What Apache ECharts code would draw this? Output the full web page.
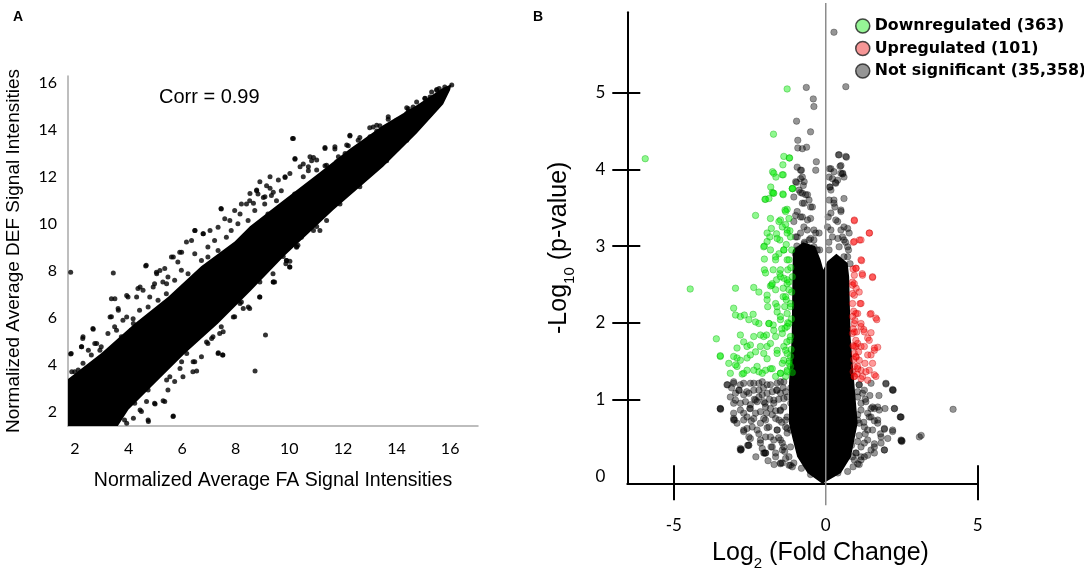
<!DOCTYPE html>
<html lang="en">

<head>
    <meta charset="UTF-8">
    <title>FA vs DEF signal intensities</title>
    <script src="https://cdn.jsdelivr.net/npm/echarts@6/dist/echarts.min.js"></script>
    <style>
        html, body {
            margin: 0;
            padding: 0;
            background: #fff;
        }
        #box {
            width: 1084px;
            height: 571px;
        }
    </style>
</head>

<body>
    <div id="box"></div>
    <script>
        // ---- panel A : correlation scatter ----
        const ticksA = [2, 4, 6, 8, 10, 12, 14, 16]
        // outline of the solid, saturated part of the cloud
        const bandA = [
            [1.74, 1.4], [1.74, 3.4], [2.98, 4.5], [4.23, 5.76], [5.47, 6.89], [6.71, 8.2], [7.96, 9.25], [8.53, 9.9],
            [9.77, 11.0], [11.02, 12.1], [12.26, 13.2], [13.5, 14.2], [14.75, 15.05], [15.74, 15.8], [16.05, 15.95],
            [16.0, 15.7], [15.74, 15.1], [14.75, 13.85], [13.5, 12.44], [11.64, 10.6], [10.7, 9.58], [9.82, 8.65],
            [8.58, 7.18], [7.34, 5.76], [6.1, 4.49], [4.85, 3.07], [4.0, 2.1], [3.6, 1.4]
        ]
        // single genes in the dotted fringe and outside the solid cloud
        const pointsA = [
            [1.84, 7.95], [3.43, 7.91], [4.64, 8.21], [10.12, 13.64], [10.21, 12.76], [9.87, 8.31], [10.02, 8.17], [9.4, 7.53],
            [7.45, 10.66], [8.78, 11.42], [9.84, 11.98], [10.52, 12.55], [10.9, 12.83], [11.33, 13.26], [12.26, 13.75],
            [12.63, 13.68], [13.0, 14.1], [13.69, 14.46], [14.38, 14.95], [15.06, 15.35], [15.5, 15.73], [16.06, 15.92],
            [14.0, 13.19], [15.18, 14.6], [13.63, 12.69], [11.89, 10.85], [11.39, 10.15], [10.9, 9.72], [10.27, 9.01],
            [6.35, 9.3], [6.79, 9.58], [5.67, 8.59], [5.17, 8.02], [5.05, 7.88], [5.98, 8.8], [6.48, 9.72], [7.04, 9.72],
            [7.78, 10.15], [8.16, 10.43], [8.4, 10.85], [9.03, 11.13], [9.4, 11.35], [9.15, 11.63], [9.52, 10.99],
            [10.71, 12.27], [10.83, 12.69], [11.33, 12.48], [11.7, 13.19], [12.2, 13.33], [12.57, 13.26], [13.26, 13.96],
            [13.38, 14.18], [14.44, 14.81], [14.62, 14.98], [15.59, 15.77], [15.8, 15.83], [15.25, 14.67], [11.14, 9.72],
            [9.9, 8.45], [1.84, 4.46], [2.29, 5.13], [2.68, 5.52], [2.25, 4.77], [1.88, 3.71], [2.12, 3.78], [2.5, 4.63],
            [2.81, 4.91], [2.93, 4.63], [3.31, 6.04], [3.49, 6.82], [3.93, 6.96], [3.62, 6.33], [3.93, 6.04], [4.3, 6.89],
            [4.43, 7.32], [4.92, 7.32], [5.42, 7.46], [3.55, 5.48], [4.18, 5.76], [5.67, 1.83], [4.74, 1.59], [5.29, 2.48],
            [4.99, 2.34], [4.43, 2.08], [4.67, 2.44], [4.18, 1.73], [3.93, 1.52], [6.54, 3.74], [6.41, 4.13], [5.92, 3.85],
            [5.98, 4.13], [5.54, 3.5], [5.42, 3.36], [7.35, 4.52], [7.51, 4.42], [8.72, 3.74], [9.11, 5.27], [7.1, 5.13],
            [7.53, 5.41], [8.28, 6.4], [8.47, 6.47], [8.9, 6.89], [7.91, 6.04], [8.16, 6.61], [6.91, 4.98], [6.17, 4.49],
            [8.9, 7.53], [9.4, 7.53],
            [4.66, 8.24], [5.04, 7.95], [5.35, 8.1], [5.6, 8.59], [5.91, 8.8], [5.84, 8.38], [6.16, 9.23], [6.47, 9.72],
            [6.78, 9.58], [6.96, 9.02], [7.21, 9.3], [7.34, 9.86], [7.59, 10.22], [7.46, 10.64], [7.96, 10.57], [8.21, 10.85],
            [8.52, 10.99], [8.83, 11.28], [9.08, 10.85], [9.33, 11.21], [9.7, 11.42], [10.2, 11.28], [10.45, 11.42],
            [3.36, 6.82], [3.61, 6.4], [3.98, 6.89], [4.35, 7.25], [4.54, 7.18], [4.79, 6.89], [4.97, 7.46], [5.28, 7.53],
            [5.47, 7.74], [5.72, 7.6], [5.97, 8.03], [6.22, 7.88], [6.47, 8.73], [6.72, 8.45], [6.96, 8.59], [7.34, 8.87],
            [7.65, 9.44], [7.83, 9.72], [8.08, 10.01], [8.46, 10.15], [8.71, 10.57], [9.2, 10.43], [9.45, 10.15],
            [9.82, 10.71], [10.32, 10.99], [2.67, 5.55], [2.3, 5.2], [2.24, 4.77], [2.74, 4.91], [2.98, 4.77], [3.23, 5.34],
            [3.48, 5.62], [3.79, 5.9], [4.17, 5.97], [4.41, 6.33], [4.73, 6.47], [5.1, 6.75], [5.41, 7.03], [2.61, 4.42],
            [1.99, 3.71], [2.3, 4.07], [1.86, 4.49], [3.36, 6.05], [3.73, 5.2], [4.1, 5.48],
            [9.89, 8.45], [10.01, 8.17], [9.39, 7.88], [9.45, 7.53], [8.89, 6.89], [8.52, 6.4], [8.21, 6.68], [7.96, 6.05],
            [7.46, 5.62], [7.4, 5.34], [7.15, 5.2], [7.34, 4.49], [7.52, 4.42], [6.47, 4.14], [6.4, 3.71], [6.03, 3.5],
            [5.72, 3.29], [4.73, 2.93], [4.97, 2.37], [5.35, 2.44], [4.23, 2.37], [4.48, 2.02], [4.73, 1.66], [3.85, 1.66],
            [5.66, 1.8], [10.32, 9.09], [10.45, 9.44], [8.33, 7.18], [7.71, 6.47], [6.96, 4.91], [6.72, 4.35], [5.47, 2.93],
            [10.15, 13.64], [10.21, 12.79], [10.77, 12.86], [10.71, 12.44], [11.33, 13.21], [11.7, 13.29], [11.83, 12.86],
            [12.14, 13.36], [12.26, 13.78], [12.57, 13.57], [12.88, 13.43], [13.13, 14.13], [13.26, 14.2], [13.69, 14.56],
            [14.0, 14.42], [14.44, 14.91], [14.75, 15.19], [15.06, 15.34], [15.31, 15.62], [15.5, 15.69], [8.9, 11.8],
            [9.28, 12.01], [9.59, 11.87], [9.84, 12.01], [10.02, 12.15], [10.4, 12.44], [10.52, 12.01], [11.02, 12.3],
            [11.39, 12.5], [11.77, 12.65], [12.08, 13.0], [12.51, 13.21], [12.82, 13.14], [13.01, 13.71], [13.51, 13.99],
            [13.88, 14.2], [14.38, 14.7], [14.87, 14.98], [15.25, 15.41], [8.53, 11.3], [8.78, 11.45], [9.09, 11.16],
            [8.66, 10.88], [9.28, 11.52], [11.02, 12.72],
            [10.27, 9.04], [10.02, 8.41], [11.83, 10.95], [13.57, 12.79], [14.0, 13.21], [15.12, 14.63], [9.77, 8.62],
            [11.02, 9.89], [12.63, 11.59], [14.38, 13.57], [15.5, 14.98]
        ]

        // ---- panel B : volcano plot ----
        const xLabelsB = [-5, 0, 5]
        const xTicksB = [-5, 5]
        const yLabelsB = [0, 1, 2, 3, 4, 5]
        const yTicksB = [1, 2, 3, 4, 5]
        const zeroLineB = [[0, -0.38], [0, 6.17]]
        // outline of the saturated black core around log2FC = 0
        const coreB = [
            [-0.11, -0.1], [-0.6, 0.04], [-0.94, 0.25], [-1.1, 0.5], [-1.21, 0.69], [-1.21, 1.21], [-1.12, 1.8],
            [-1.1, 2.5], [-1.08, 2.95], [-0.75, 3.05], [-0.35, 3.0], [-0.17, 2.82], [-0.08, 2.69], [0.05, 2.8],
            [0.35, 2.9], [0.72, 2.78], [0.77, 2.6], [0.82, 1.8], [0.94, 1.21], [1.05, 0.69], [0.83, 0.25], [0.5, 0.04]
        ]
        const downB = [
            [-5.94, 4.14], [-1.27, 5.05], [-1.72, 4.46], [-1.19, 4.15], [-1.41, 4.06], [-1.75, 3.97], [-1.64, 3.9],
            [-1.4, 3.93], [-1.81, 3.77], [-1.73, 3.69], [-1.41, 3.68], [-1.09, 3.75], [-2.0, 3.61], [-2.31, 3.4],
            [-1.98, 3.61], [-1.76, 3.7], [-1.4, 3.67], [-1.27, 3.48], [-1.34, 3.47], [-1.82, 3.36], [-1.49, 3.34],
            [-1.32, 3.28], [-1.79, 3.23], [-1.27, 3.21], [-1.62, 3.16], [-1.84, 3.12], [-2.02, 3.0], [-1.93, 3.06],
            [-1.51, 3.08], [-1.16, 3.12], [-1.54, 2.9], [-1.65, 2.86], [-2.02, 2.83], [-1.38, 2.95], [-1.27, 2.82],
            [-1.73, 2.69], [-2.02, 2.69], [-1.51, 2.64], [-1.25, 2.69], [-1.62, 2.56], [-1.38, 2.58], [-1.21, 2.53],
            [-1.82, 2.48], [-2.37, 2.46], [-2.97, 2.45], [-1.21, 3.36], [-1.1, 3.75], [-1.2, 4.15],
            [-4.46, 2.44], [-2.2, 2.4], [-1.93, 2.36], [-1.78, 2.49], [-1.65, 2.25], [-1.4, 2.34], [-1.27, 2.51],
            [-1.91, 2.21], [-1.6, 2.14], [-1.27, 2.12], [-3.03, 2.19], [-2.97, 2.1], [-2.81, 2.08], [-2.68, 2.1],
            [-2.39, 2.11], [-2.53, 2.04], [-2.31, 2.01], [-2.2, 1.99], [-1.87, 1.99], [-1.73, 1.97], [-1.49, 2.04],
            [-1.34, 1.93], [-3.6, 1.79], [-2.81, 1.84], [-2.37, 1.82], [-2.15, 1.84], [-1.95, 1.84], [-1.65, 1.82],
            [-1.43, 1.86], [-2.7, 1.75], [-2.48, 1.71], [-2.92, 1.67], [-3.47, 1.56], [-2.92, 1.54], [-2.59, 1.54],
            [-2.31, 1.62], [-2.04, 1.6], [-1.93, 1.69], [-1.6, 1.64], [-1.38, 1.69], [-3.19, 1.47], [-2.92, 1.43],
            [-2.75, 1.33], [-2.59, 1.38], [-2.26, 1.43], [-2.2, 1.36], [-1.98, 1.38], [-1.82, 1.4], [-1.65, 1.3],
            [-1.27, 1.38], [-1.43, 1.47], [-1.16, 1.56], [-1.21, 2.43], [-1.16, 2.25], [-1.21, 1.99], [-1.18, 1.77],
            [-1.27, 1.6], [-1.16, 1.43], [-1.35, 2.21], [-1.49, 2.6], [-1.1, 2.6], [-1.32, 1.3], [-1.49, 1.34],
            [-1.12, 2.95], [-1.15, 2.72], [-1.3, 3.02], [-1.18, 3.2], [-1.12, 2.4], [-1.13, 2.05], [-1.14, 1.65],
            [-1.2, 1.5], [-1.1, 1.35], [-1.28, 1.75], [-1.3, 2.3], [-1.4, 2.45], [-1.25, 2.0], [-1.45, 1.92],
            [-1.32, 3.45], [-1.43, 3.25], [-1.27, 3.17], [-1.38, 2.95], [-1.21, 2.82], [-1.49, 2.69], [-1.27, 2.56],
            [-1.65, 2.43], [-1.32, 2.34], [-1.16, 2.21], [-1.49, 2.08], [-1.27, 1.95], [-1.71, 1.9], [-1.16, 1.82],
            [-1.93, 3.17], [-1.82, 2.95], [-1.65, 2.82], [-1.98, 2.65], [-1.76, 2.51], [-1.93, 2.3], [-1.6, 2.21],
            [-1.87, 1.99], [-2.04, 1.82], [-1.38, 4.17], [-1.71, 3.95], [-1.43, 3.93], [-1.87, 3.62], [-1.71, 3.69],
            [-1.1, 3.75], [-1.54, 3.32], [-1.6, 3.1], [-2.04, 2.99],
            [-3.47, 1.57], [-3.14, 1.34], [-2.97, 1.45], [-2.7, 1.34], [-2.37, 1.38], [-2.09, 1.34], [-1.76, 1.4],
            [-1.49, 1.34], [-1.27, 1.36], [-2.81, 1.51], [-2.48, 1.58], [-1.93, 1.53], [-1.6, 1.6], [-1.32, 1.64],
            [-3.03, 1.56], [-2.59, 1.69], [-2.15, 1.69], [-1.82, 1.73], [-1.38, 1.51], [-1.21, 1.47]
        ]
        const upB = [
            [0.94, 3.33], [1.44, 3.17], [1.11, 3.08], [0.91, 3.05], [1.18, 2.81], [1.0, 2.71], [1.2, 2.64], [1.54, 2.59],
            [0.94, 2.62], [0.88, 2.53], [1.1, 2.4], [0.88, 2.49], [0.88, 2.25], [1.13, 2.25], [1.46, 2.11], [1.68, 2.04],
            [0.94, 1.99], [1.16, 1.95], [0.88, 1.86], [1.25, 1.91], [1.49, 1.87], [0.99, 1.77], [1.16, 1.69], [1.38, 1.8],
            [1.6, 1.64], [1.71, 1.68], [1.49, 1.58], [0.94, 1.6], [1.1, 1.51], [1.29, 1.47], [0.94, 1.43], [1.16, 1.38],
            [1.43, 1.38], [1.65, 1.3], [0.94, 1.3], [1.21, 1.3], [0.99, 1.69], [1.05, 2.12], [0.94, 2.36], [0.9, 2.7],
            [0.92, 2.15], [0.9, 1.92], [0.9, 1.7], [0.92, 1.52], [0.9, 1.36], [1.0, 1.55], [1.05, 1.4], [0.96, 2.03],
            [1.02, 1.88], [1.0, 2.45], [1.08, 1.62], [1.03, 1.33],
            [0.94, 3.34], [1.43, 3.17], [1.16, 3.08], [0.94, 3.06], [1.16, 2.82], [0.99, 2.71], [1.21, 2.62], [1.54, 2.6],
            [0.94, 2.51], [0.88, 2.38], [1.16, 2.25], [0.99, 2.12], [1.49, 2.12], [1.16, 1.99], [0.94, 1.88], [1.27, 1.88],
            [1.65, 2.06], [1.43, 1.77], [1.05, 1.73], [0.88, 2.08],
            [0.94, 1.69], [1.27, 1.69], [1.6, 1.67], [0.99, 1.56], [1.38, 1.58], [1.54, 1.47], [1.05, 1.43], [1.32, 1.36],
            [1.6, 1.32], [0.94, 1.3], [1.16, 1.27], [1.38, 1.25]
        ]
        const notSigB = [
            [0.27, 5.79], [0.66, 5.08], [-0.64, 5.07], [-0.41, 4.92], [-0.39, 4.82], [-0.96, 4.63], [-0.5, 4.49],
            [-0.92, 4.38], [-0.92, 4.28], [-0.77, 4.27], [-0.63, 4.29], [-0.31, 4.1], [0.42, 4.19], [0.68, 4.16],
            [0.5, 4.05], [0.12, 4.01], [0.27, 3.97], [0.56, 3.95], [0.11, 3.9], [0.32, 3.83], [0.13, 3.77],
            [-0.94, 4.03], [-0.8, 3.99], [-0.77, 3.9], [-0.96, 3.83], [-0.74, 3.79], [-0.83, 3.7], [-0.6, 3.67],
            [-0.83, 3.88], [-0.88, 3.73], [-0.66, 3.67], [-0.77, 3.56], [-0.55, 3.6], [-0.44, 3.51], [-0.99, 3.4],
            [-0.83, 3.38], [-0.6, 3.34], [-0.72, 3.25], [-0.33, 3.17], [-0.94, 3.12], [-0.55, 3.08], [-0.39, 2.99],
            [-0.44, 2.86], [0.47, 4.04], [0.55, 3.94], [0.39, 3.86], [0.6, 3.9], [0.14, 3.77], [0.27, 3.6],
            [0.3, 3.51], [0.08, 3.38], [0.5, 3.45], [0.39, 3.32], [0.6, 3.25], [0.17, 3.21], [0.77, 3.17], [0.55, 3.12],
            [0.72, 2.99], [0.6, 2.86], [0.8, 2.77],
            [-0.83, 3.99], [-0.99, 3.84], [-0.71, 3.84], [-0.77, 3.69], [-1.05, 3.64], [-0.5, 3.51], [-0.71, 3.56],
            [-0.94, 3.45], [-0.77, 3.38], [-1.05, 3.32], [-0.5, 3.36], [-0.39, 3.21], [-0.61, 3.21], [-0.83, 3.17],
            [-0.99, 3.12], [-0.71, 3.03], [-0.39, 3.08], [-0.55, 2.95], [-0.94, 2.95], [-0.83, 2.86], [-0.28, 2.95],
            [-0.22, 3.17], [-0.33, 3.99], [0.17, 4.01], [0.44, 4.19], [0.66, 4.17], [0.5, 3.95], [0.22, 3.88],
            [0.33, 3.82], [0.11, 3.6], [0.27, 3.56], [0.5, 3.47], [0.17, 3.43], [0.33, 3.34], [0.06, 3.25], [0.5, 3.21],
            [0.72, 3.23], [0.22, 3.12], [0.6, 3.08], [0.44, 2.99], [0.11, 2.95], [0.72, 2.86], [0.33, 2.82], [0.55, 2.73],
            [0.17, 3.73], [0.6, 3.62],
            [-3.47, 0.88], [-3.23, 1.19], [-3.03, 1.21], [-2.81, 1.19], [-2.48, 1.21], [-2.2, 1.21], [-1.93, 1.19],
            [-1.6, 1.21], [-1.38, 1.23], [-2.97, 1.08], [-2.7, 1.06], [-2.37, 1.12], [-2.09, 1.06], [-1.76, 1.1],
            [-1.49, 1.08], [-2.81, 0.95], [-2.48, 0.93], [-2.26, 0.97], [-1.98, 0.9], [-1.71, 0.95], [-1.38, 0.9],
            [-3.03, 0.82], [-2.59, 0.77], [-2.31, 0.82], [-2.04, 0.75], [-1.76, 0.8], [-1.54, 0.73], [-2.92, 0.69],
            [-2.42, 0.64], [-2.15, 0.69], [-1.87, 0.64], [-1.6, 0.6], [-1.32, 0.64], [-2.53, 0.51], [-2.15, 0.43],
            [-1.98, 0.51], [-1.71, 0.47], [-1.43, 0.43], [-2.81, 0.34], [-2.57, 0.4], [-1.98, 0.3], [-1.65, 0.3],
            [-1.43, 0.17], [-1.21, 0.25], [-1.05, 0.17], [-1.16, 0.38], [-1.27, 0.56], [-1.27, 0.77], [-1.27, 1.03],
            [-3.14, 1.03], [-2.7, 0.82], [-3.03, 0.95], [-3.46, 0.87], [-2.79, 0.34], [-2.54, 0.4], [-2.02, 0.3],
            [-3.0, 0.73], [-2.78, 0.35], [-2.04, 0.3], [-1.49, 0.17], [-1.21, 0.14],
            [-2.6, 1.1], [-2.35, 1.0], [-2.05, 1.15], [-1.85, 1.0], [-1.55, 1.0], [-1.4, 1.15], [-2.7, 0.6],
            [-2.45, 0.72], [-2.2, 0.55], [-1.95, 0.82], [-1.65, 0.85], [-1.45, 0.7], [-1.8, 0.38], [-1.55, 0.5],
            [-1.35, 0.32], [-2.3, 0.25], [-1.9, 0.2], [-1.7, 0.15], [-2.85, 1.12], [-3.1, 1.15], [-2.2, 1.03],
            [-1.62, 1.12], [-2.0, 0.95], [-1.5, 0.85], [-2.5, 0.88], [-1.15, 0.95], [-1.15, 0.6], [-1.15, 1.15],
            [-3.25, 1.19], [-3.03, 1.23], [-2.7, 1.21], [-2.37, 1.21], [-2.09, 1.23], [-1.82, 1.19], [-1.49, 1.23],
            [-2.86, 1.12], [-2.53, 1.08], [-2.2, 1.12], [-1.93, 1.08], [-1.6, 1.12], [-1.32, 1.1], [-2.97, 0.99],
            [-2.64, 0.97], [-2.31, 0.99], [-2.04, 0.97], [-1.71, 0.99], [-1.38, 1.01], [-2.81, 0.86], [-2.48, 0.88],
            [-2.15, 0.84], [-1.82, 0.88], [-1.49, 0.86], [-3.03, 0.75], [-2.7, 0.73], [-2.37, 0.75], [-1.98, 0.73],
            [-1.65, 0.75], [-1.32, 0.73], [-2.59, 0.62], [-2.26, 0.6], [-1.93, 0.63], [-1.6, 0.6], [-1.27, 0.62],
            [-2.48, 0.49], [-2.15, 0.47], [-1.82, 0.51], [-1.49, 0.47], [-2.09, 0.36], [-1.76, 0.38], [-1.43, 0.34],
            [-1.98, 0.3], [-1.65, 0.25], [-1.32, 0.23], [-1.49, 0.16], [-1.16, 0.14], [-3.47, 0.88], [-3.03, 0.73],
            [-2.81, 0.36], [-2.53, 0.4], [-1.1, 0.12], [-1.38, 0.38], [-2.7, 0.58],
            [1.1, 1.19], [1.49, 1.21], [1.98, 1.2], [2.2, 1.13], [1.21, 1.08], [1.16, 0.95], [1.54, 0.9], [1.71, 0.9],
            [1.95, 0.88], [2.26, 0.88], [2.46, 0.77], [1.49, 0.77], [1.71, 0.69], [1.93, 0.61], [2.2, 0.58], [1.38, 0.6],
            [2.04, 0.49], [2.48, 0.46], [1.82, 0.43], [1.49, 0.34], [1.27, 0.43], [1.16, 0.25], [1.38, 0.82], [1.1, 0.69],
            [3.14, 0.53], [3.08, 0.51], [4.19, 0.87], [2.51, 0.46], [2.22, 1.12], [2.45, 0.77], [1.93, 0.34],
            [2.5, 0.45], [1.6, 0.42], [0.72, 0.06], [0.94, 0.21], [1.27, 0.25], [1.05, 1.1], [1.3, 1.0], [1.05, 0.8],
            [1.25, 0.7], [1.05, 0.45], [1.3, 0.55], [1.6, 0.72], [1.8, 0.55], [1.0, 0.3], [1.45, 1.05], [1.75, 1.05],
            [0.9, 0.12], [1.6, 0.3], [1.1, 0.15],
            [1.1, 1.19], [1.27, 1.12], [1.05, 1.03], [1.32, 0.97], [1.6, 0.88], [1.16, 0.86], [1.43, 0.77], [1.05, 0.73],
            [1.71, 0.73], [1.27, 0.64], [1.54, 0.6], [1.1, 0.53], [1.38, 0.47], [1.82, 0.51], [1.16, 0.38], [1.6, 0.38],
            [0.99, 0.3], [1.38, 0.27], [1.93, 0.34], [2.2, 1.12], [1.98, 1.21], [2.26, 0.88], [2.48, 0.77], [2.2, 0.6],
            [2.48, 0.47], [1.93, 0.62], [1.16, 0.21], [0.88, 0.25], [1.05, 0.16], [1.49, 0.88], [1.76, 0.86],
            [-1.0, 2.9], [-0.95, 3.0], [-0.7, 3.05], [-0.5, 3.1], [-0.2, 2.95], [0.1, 3.05], [0.4, 3.1], [0.65, 3.05],
            [0.75, 2.95], [-0.8, 0.1], [-0.5, 0.02], [0.4, 0.04], [0.7, 0.25], [0.85, 0.4]
        ]

        const numFont = 'Lato'
        const txtFont = 'Liberation Sans'

        // filled outline drawn through the axes of the given grid
        function outline(points, xi, yi, z) {
            return {
                type: 'custom',
                name: 'outline',
                xAxisIndex: xi,
                yAxisIndex: yi,
                z: z,
                clip: true,
                silent: true,
                data: [points[0]],
                renderItem: function (params, api) {
                    return {
                        type: 'polygon',
                        shape: { points: points.map(p => api.coord(p)) },
                        style: { fill: '#000' }
                    }
                }
            }
        }

        const subRich = {
            t: { fontFamily: txtFont, fontSize: 25, color: '#000', lineHeight: 29, verticalAlign: 'top' },
            s: { fontFamily: txtFont, fontSize: 15, color: '#000', lineHeight: 15, padding: [16, 0, 0, 0], verticalAlign: 'top' }
        }

        var myChart = echarts.init(document.getElementById('box'))
        var option = {
            animation: false,
            backgroundColor: '#fff',
            title: [{
                text: 'A', left: 13, top: 10, padding: 0,
                textStyle: { fontFamily: txtFont, fontSize: 14, fontWeight: 'bold', color: '#000' }
            }, {
                text: 'B', left: 533, top: 10, padding: 0,
                textStyle: { fontFamily: txtFont, fontSize: 14, fontWeight: 'bold', color: '#000' }
            }, {
                text: 'Corr = 0.99', left: 159, top: 87, padding: 0,
                textStyle: { fontFamily: txtFont, fontSize: 20, fontWeight: 'normal', color: '#000' }
            }],
            legend: {
                orient: 'vertical',
                left: 855,
                top: 18,
                padding: 0,
                itemWidth: 14,
                itemHeight: 14,
                itemGap: 6.5,
                icon: 'circle',
                textStyle: { fontFamily: 'DejaVu Sans', fontSize: 15.8, fontWeight: 'bold', color: '#000', lineHeight: 14 },
                data: [
                    { name: 'Downregulated (363)', itemStyle: { color: '#7cf27c', borderColor: '#1e1e1e', borderWidth: 1.5 } },
                    { name: 'Upregulated (101)', itemStyle: { color: '#f47c7c', borderColor: '#1e1e1e', borderWidth: 1.5 } },
                    { name: 'Not significant (35,358)', itemStyle: { color: '#7a7a7a', borderColor: '#1e1e1e', borderWidth: 1.5 } }
                ]
            },
            grid: [
                { left: 68, top: 76, width: 410, height: 350, outerBoundsMode: 'none', containLabel: false },
                { left: 627.3, top: 12.3, width: 350.4, height: 471, outerBoundsMode: 'none', containLabel: false }
            ],
            xAxis: [{
                gridIndex: 0,
                type: 'value',
                position: 'bottom',
                min: 1.74,
                max: 17.04,
                axisLine: { lineStyle: { color: '#a8a8a8', width: 1.5 } },
                axisTick: { show: false },
                splitLine: { show: false },
                axisLabel: { customValues: ticksA, fontFamily: numFont, fontSize: 16, color: '#000', margin: 15 },
                name: 'Normalized Average FA Signal Intensities',
                nameLocation: 'middle',
                nameGap: 45,
                nameTextStyle: { fontFamily: txtFont, fontSize: 19.5, color: '#000' }
            }, {
                gridIndex: 1,
                type: 'value',
                position: 'bottom',
                min: -6.53,
                max: 5,
                axisLine: { onZero: false, lineStyle: { color: '#000', width: 2 } },
                axisTick: { customValues: xTicksB, length: 17, lineStyle: { color: '#000', width: 2 } },
                splitLine: { show: false },
                axisLabel: { customValues: xLabelsB, fontFamily: numFont, fontSize: 17, color: '#000', margin: 34 },
                name: '{t|Log}{s|2}{t| (Fold Change)}',
                nameLocation: 'middle',
                nameGap: 57,
                nameTextStyle: { padding: [0, 0, 0, 36], rich: subRich }
            }, {
                gridIndex: 1,
                type: 'value',
                position: 'bottom',
                offset: 0,
                min: -6.53,
                max: 5,
                axisLine: { show: false, onZero: false },
                axisTick: { inside: true, customValues: xTicksB, length: 18, lineStyle: { color: '#000', width: 2 } },
                axisLabel: { show: false },
                splitLine: { show: false }
            }],
            yAxis: [{
                gridIndex: 0,
                type: 'value',
                position: 'left',
                min: 1.4,
                max: 16.3,
                axisLine: { show: true, lineStyle: { color: '#a8a8a8', width: 1.5 } },
                axisTick: { show: false },
                splitLine: { show: false },
                axisLabel: { customValues: ticksA, fontFamily: numFont, fontSize: 16, color: '#000', margin: 11 },
                name: 'Normalized Average DEF Signal Intensities',
                nameLocation: 'middle',
                nameGap: 45,
                nameTextStyle: { fontFamily: txtFont, fontSize: 19, color: '#000' }
            }, {
                gridIndex: 1,
                type: 'value',
                position: 'left',
                min: -0.095,
                max: 6.05,
                axisLine: { show: true, onZero: false, lineStyle: { color: '#000', width: 2 } },
                axisTick: { customValues: yTicksB, length: 15, lineStyle: { color: '#000', width: 2 } },
                splitLine: { show: false },
                axisLabel: { customValues: yLabelsB, fontFamily: numFont, fontSize: 17, color: '#000', margin: 22 },
                name: '{t|-Log}{s|10}{t| (p-value)}',
                nameLocation: 'middle',
                nameGap: 52,
                nameTextStyle: { rich: subRich }
            }, {
                gridIndex: 1,
                type: 'value',
                position: 'left',
                offset: 0,
                min: -0.095,
                max: 6.05,
                axisLine: { show: false, onZero: false },
                axisTick: { inside: true, customValues: yTicksB, length: 13, lineStyle: { color: '#000', width: 2 } },
                axisLabel: { show: false },
                splitLine: { show: false }
            }],
            series: [
                outline(bandA, 0, 0, 2),
                {
                    name: 'genes',
                    type: 'scatter',
                    xAxisIndex: 0,
                    yAxisIndex: 0,
                    symbolSize: 5,
                    itemStyle: { color: '#000' },
                    data: pointsA,
                    z: 3
                },
                outline(coreB, 1, 1, 2),
                {
                    name: 'Not significant (35,358)',
                    type: 'scatter',
                    xAxisIndex: 1,
                    yAxisIndex: 1,
                    symbolSize: 6.5,
                    itemStyle: { color: 'rgba(0,0,0,0.52)', borderColor: 'rgba(0,0,0,0.35)', borderWidth: 1 },
                    data: notSigB,
                    z: 3
                },
                {
                    name: 'Downregulated (363)',
                    type: 'scatter',
                    xAxisIndex: 1,
                    yAxisIndex: 1,
                    symbolSize: 6.5,
                    itemStyle: { color: 'rgba(0,240,0,0.55)', borderColor: 'rgba(0,170,0,0.45)', borderWidth: 1 },
                    data: downB,
                    z: 4
                },
                {
                    name: 'Upregulated (101)',
                    type: 'scatter',
                    xAxisIndex: 1,
                    yAxisIndex: 1,
                    symbolSize: 6.5,
                    itemStyle: { color: 'rgba(255,0,0,0.5)', borderColor: 'rgba(190,0,0,0.4)', borderWidth: 1 },
                    data: upB,
                    z: 4
                },
                {
                    name: 'zero',
                    type: 'custom',
                    xAxisIndex: 1,
                    yAxisIndex: 1,
                    clip: false,
                    silent: true,
                    z: 6,
                    data: [zeroLineB[0]],
                    renderItem: function (params, api) {
                        const a = api.coord(zeroLineB[0])
                        const b = api.coord(zeroLineB[1])
                        return {
                            type: 'line',
                            shape: { x1: a[0], y1: a[1], x2: b[0], y2: b[1] },
                            style: { stroke: '#8c8c8c', lineWidth: 1.5 }
                        }
                    }
                }
            ]
        }
        myChart.setOption(option)
    </script>
</body>

</html>
